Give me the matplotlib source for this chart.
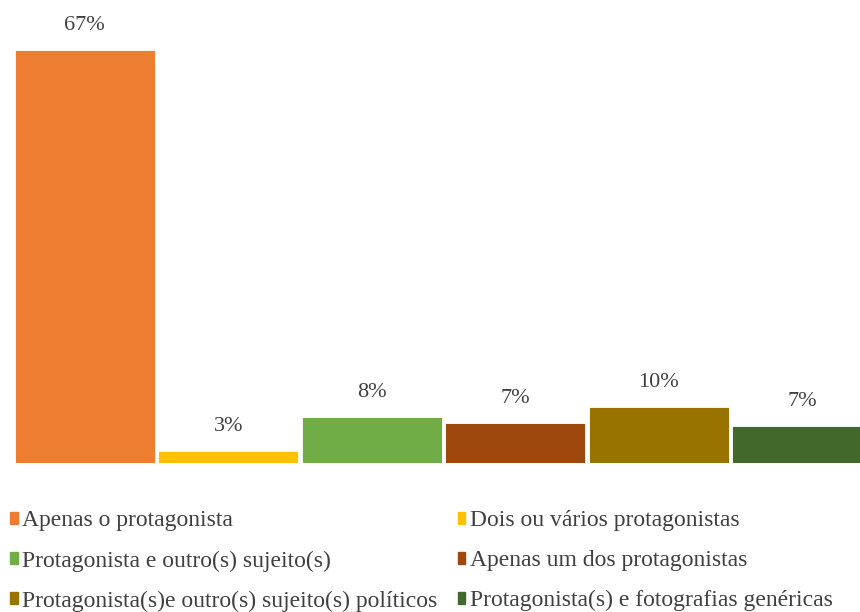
import matplotlib.pyplot as plt
from matplotlib.patches import Patch

categories = [
    "Apenas o protagonista",
    "Dois ou vários protagonistas",
    "Protagonista e outro(s) sujeito(s)",
    "Apenas um dos protagonistas",
    "Protagonista(s)e outro(s) sujeito(s) políticos",
    "Protagonista(s) e fotografias genéricas",
]
values = [67, 2, 7.5, 6.5, 9.1, 6.0]
labels = ["67%", "3%", "8%", "7%", "10%", "7%"]
colors = ["#ED7D31", "#FFC000", "#70AD47", "#9E480E", "#997300", "#43682B"]

plt.rcParams["font.family"] = ["Liberation Serif", "DejaVu Serif"]

W, H = 860, 612
fig = plt.figure(figsize=(W / 100, H / 100), dpi=100)
# axes in pixel terms: left 13, width 861, baseline at y=463, 6.164 px per %
ymax = 70
ax_h = ymax * 6.164
ax = fig.add_axes([13 / W, (H - 463) / H, 861 / W, ax_h / H])

x = range(len(values))
bars = ax.bar(x, values, width=0.975, color=colors, edgecolor="white", linewidth=0.6)
for b, lab in zip(bars, labels):
    ax.annotate(lab, (b.get_x() + b.get_width() / 2, b.get_height()),
                xytext=(0, 10.5), textcoords="offset points",
                ha="center", va="bottom", fontsize=16, color="#404040")

ax.set_xlim(-0.5, len(values) - 0.5)
ax.set_ylim(0, ymax)
ax.axis("off")

handles = [Patch(color=c) for c in colors]
order = [0, 2, 4, 1, 3, 5]
fig.legend([handles[i] for i in order], [categories[i] for i in order],
           ncol=2, loc="upper left", bbox_to_anchor=(1 / W, 1 - 501 / H),
           frameon=False, fontsize=17, handlelength=0.32, handleheight=0.4,
           handletextpad=0.18, columnspacing=0.86, labelspacing=0.8,
           borderaxespad=0, labelcolor="#404040")

fig.savefig("out.png", dpi=100)
